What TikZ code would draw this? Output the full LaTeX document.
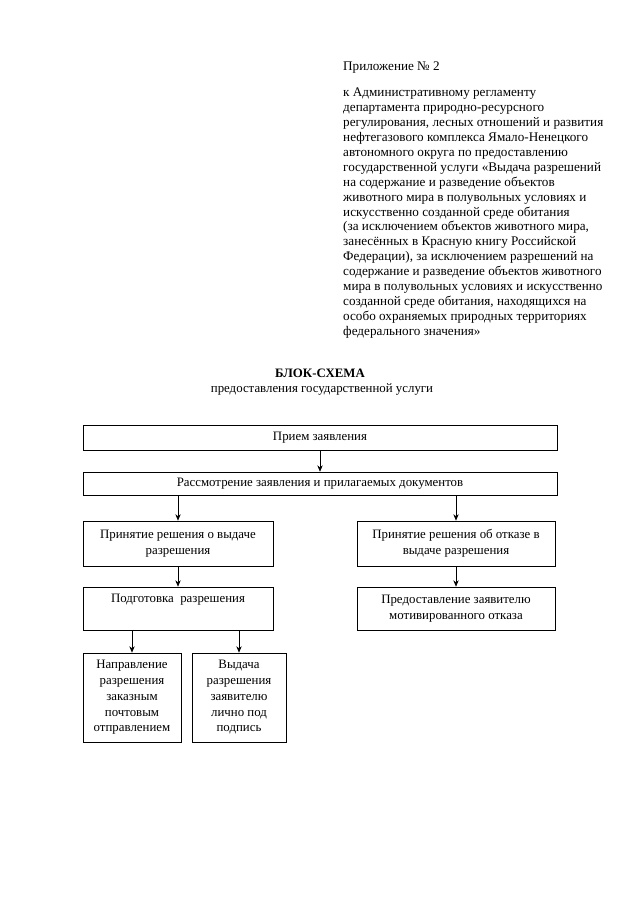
\documentclass[tikz,border=0pt]{standalone}
\usepackage{fontspec}
\setmainfont{Liberation Serif}
\usetikzlibrary{arrows.meta}

\begin{document}
\begin{tikzpicture}[x=0.328mm, y=-0.328mm,
  box/.style={draw, line width=0.6pt, align=center, inner sep=0pt, font=\fontsize{12}{15}\selectfont},
  arr/.style={line width=0.6pt, -{Stealth[length=6pt,width=5pt]}}]
\useasboundingbox (0,0) rectangle (640,905);
% header
\node[anchor=west, inner sep=0pt, font=\fontsize{12.3}{14}\selectfont] (annex) at (343,68) {Приложение № 2};
\node[anchor=north west, align=left, inner sep=0pt, font=\fontsize{12.3}{13.9}\selectfont] (regl) at (343,88) {к Административному регламенту\\
департамента природно-ресурсного\\
регулирования, лесных отношений и развития\\
нефтегазового комплекса Ямало-Ненецкого\\
автономного округа по предоставлению\\
государственной услуги «Выдача разрешений\\
на содержание и разведение объектов\\
животного мира в полувольных условиях и\\
искусственно созданной среде обитания\\
(за исключением объектов животного мира,\\
занесённых в Красную книгу Российской\\
Федерации), за исключением разрешений на\\
содержание и разведение объектов животного\\
мира в полувольных условиях и искусственно\\
созданной среде обитания, находящихся на\\
особо охраняемых природных территориях\\
федерального значения»};
% title
\node[font=\bfseries\fontsize{12}{14}\selectfont] (title) at (320,373) {БЛОК-СХЕМА};
\node[font=\fontsize{12}{14}\selectfont] (subtitle) at (322,389) {предоставления государственной услуги};
% boxes
\node[box, minimum width=155.5mm, minimum height=8.2mm] (recv) at (320,437.5) {Прием заявления};
\node[box, minimum width=155.5mm, minimum height=7.5mm] (review) at (320,483.5) {Рассмотрение заявления и прилагаемых документов};
\node[box, minimum width=62.3mm, minimum height=14.8mm] (grant) at (178,543.5) {Принятие решения о выдаче\\разрешения};
\node[box, minimum width=65mm, minimum height=14.8mm] (refuse) at (456,543.5) {Принятие решения об отказе в\\выдаче разрешения};
\node[box, minimum width=62.3mm, minimum height=14.1mm] (prep) at (178,608.5) {Подготовка~~разрешения\\\strut};
\node[box, minimum width=65mm, minimum height=14.1mm] (notify) at (456,608.5) {Предоставление заявителю\\мотивированного отказа};
\node[box, minimum width=32.1mm, minimum height=29.2mm, font=\fontsize{12}{14.7}\selectfont] (mail) at (132,697.5) {Направление\\разрешения\\заказным\\почтовым\\отправлением};
\node[box, minimum width=30.8mm, minimum height=29.2mm, font=\fontsize{12}{14.7}\selectfont] (hand) at (239,697.5) {Выдача\\разрешения\\заявителю\\лично под\\подпись};
% arrows
\draw[arr] (recv) -- (review);
\draw[arr] (grant.north |- review.south) -- (grant);
\draw[arr] (refuse.north |- review.south) -- (refuse);
\draw[arr] (grant) -- (prep);
\draw[arr] (refuse) -- (notify);
\draw[arr] (mail.north |- prep.south) -- (mail);
\draw[arr] (hand.north |- prep.south) -- (hand);
\end{tikzpicture}
\end{document}
